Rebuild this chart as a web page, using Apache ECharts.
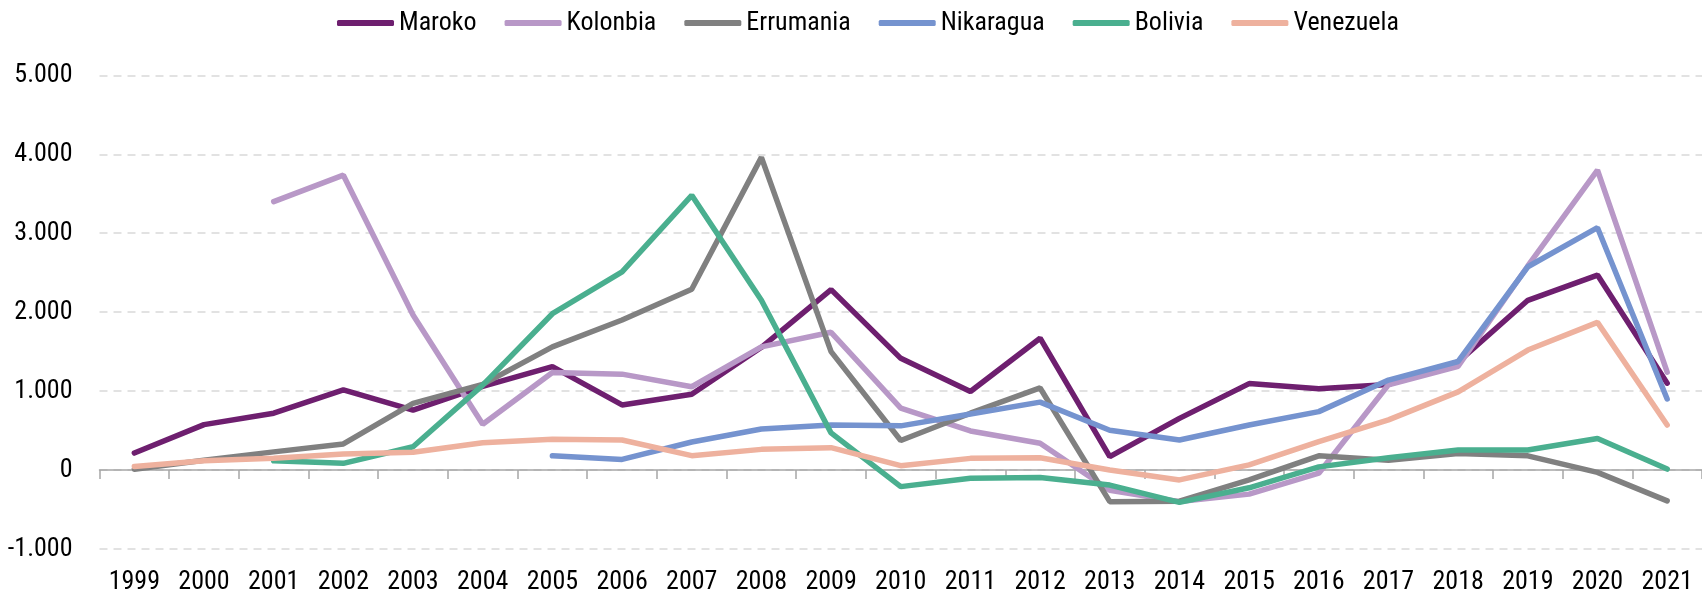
<!DOCTYPE html>
<html>
<head>
<meta charset="utf-8">
<script src="https://cdn.jsdelivr.net/npm/echarts@6/dist/echarts.min.js"></script>
<style>
  html, body { margin: 0; padding: 0; background: #fff; }
  #chart { width: 1702px; height: 595px; }
</style>
</head>
<body>
<div id="chart"></div>
<script>
var years = ['1999','2000','2001','2002','2003','2004','2005','2006','2007','2008','2009','2010',
             '2011','2012','2013','2014','2015','2016','2017','2018','2019','2020','2021'];

var maroko    = [215, 575, 720, 1015, 760, 1060, 1310, 825, 960, 1555, 2285, 1415,
                 995, 1670, 170, 655, 1095, 1030, 1085, 1370, 2150, 2470, 1100];
var kolonbia  = [null, null, 3400, 3735, 1965, 580, 1235, 1215, 1055, 1560, 1745, 785,
                 495, 340, -255, -400, -305, -40, 1080, 1315, 2585, 3800, 1240];
var errumania = [10, 125, 230, 330, 845, 1085, 1560, 1900, 2290, 3960, 1500, 375,
                 720, 1040, -400, -395, -125, 180, 125, 210, 180, -30, -390];
var nikaragua = [null, null, null, null, null, null, 180, 135, 355, 520, 570, 560,
                 710, 860, 505, 380, 570, 740, 1140, 1375, 2575, 3070, 900];
var bolivia   = [null, null, 118, 85, 295, 1075, 1980, 2510, 3480, 2150, 470, -210,
                 -105, -95, -190, -410, -225, 40, 155, 255, 255, 400, 12];
var venezuela = [45, 118, 148, 202, 225, 345, 390, 380, 182, 262, 283, 55,
                 148, 155, 0, -125, 65, 360, 635, 990, 1520, 1870, 570];

var names  = ['Maroko', 'Kolonbia', 'Errumania', 'Nikaragua', 'Bolivia', 'Venezuela'];
var colors = ['#6e1f6f', '#b898c7', '#808080', '#7593cf', '#4aaf8f', '#eeb19e'];
var values = [maroko, kolonbia, errumania, nikaragua, bolivia, venezuela];

var FONT = "'Roboto Condensed', 'DejaVu Sans Condensed', sans-serif";

var chart = echarts.init(document.getElementById('chart'));

// 5000 -> "5.000"
function fmt(v) {
    var s = Math.abs(v).toString().replace(/\B(?=(\d{3})+(?!\d))/g, '.');
    return (v < 0 ? '-' : '') + s;
}

var series = names.map(function (n, i) {
    return {
        name: n,
        type: 'line',
        data: values[i],
        symbol: 'none',
        xAxisIndex: 0,
        lineStyle: { color: colors[i], width: 5.5, cap: 'round' },
        itemStyle: { color: colors[i] },
        emphasis: { disabled: true }
    };
});

chart.setOption({
    animation: false,
    textStyle: { fontFamily: FONT },
    legend: {
        top: 5,
        left: 332,
        icon: 'roundRect',
        itemWidth: 57,
        itemHeight: 6,
        itemGap: 28,
        textStyle: { fontFamily: FONT, fontSize: 26, color: '#000' },
        data: names
    },
    grid: { left: 99.5, right: -7.5, top: 75.3, bottom: 46, containLabel: false },
    xAxis: [
        {
            // line at zero with the ticks
            type: 'category',
            data: years,
            boundaryGap: true,
            position: 'bottom',
            axisLine: { onZero: true, lineStyle: { color: '#a6a6a6', width: 1.5 } },
            axisTick: { show: true, interval: 0, length: 9, lineStyle: { color: '#a6a6a6', width: 1.5 } },
            axisLabel: { show: false },
            splitLine: { show: false }
        },
        {
            // year labels at the bottom
            type: 'category',
            data: years,
            boundaryGap: true,
            position: 'bottom',
            axisLine: { show: false, onZero: false },
            axisTick: { show: false },
            axisLabel: { show: true, interval: 0, margin: 20, fontSize: 26, color: '#000', fontFamily: FONT },
            splitLine: { show: false }
        }
    ],
    yAxis: {
        type: 'value',
        min: -1000,
        max: 5000,
        interval: 1000,
        axisLine: { show: false },
        axisTick: { show: false },
        axisLabel: { margin: 27, fontSize: 26, color: '#000', fontFamily: FONT, formatter: fmt },
        splitLine: { lineStyle: { color: '#d9d9d9', width: 1.5, type: [8, 6] } }
    },
    series: series
});
</script>
</body>
</html>
